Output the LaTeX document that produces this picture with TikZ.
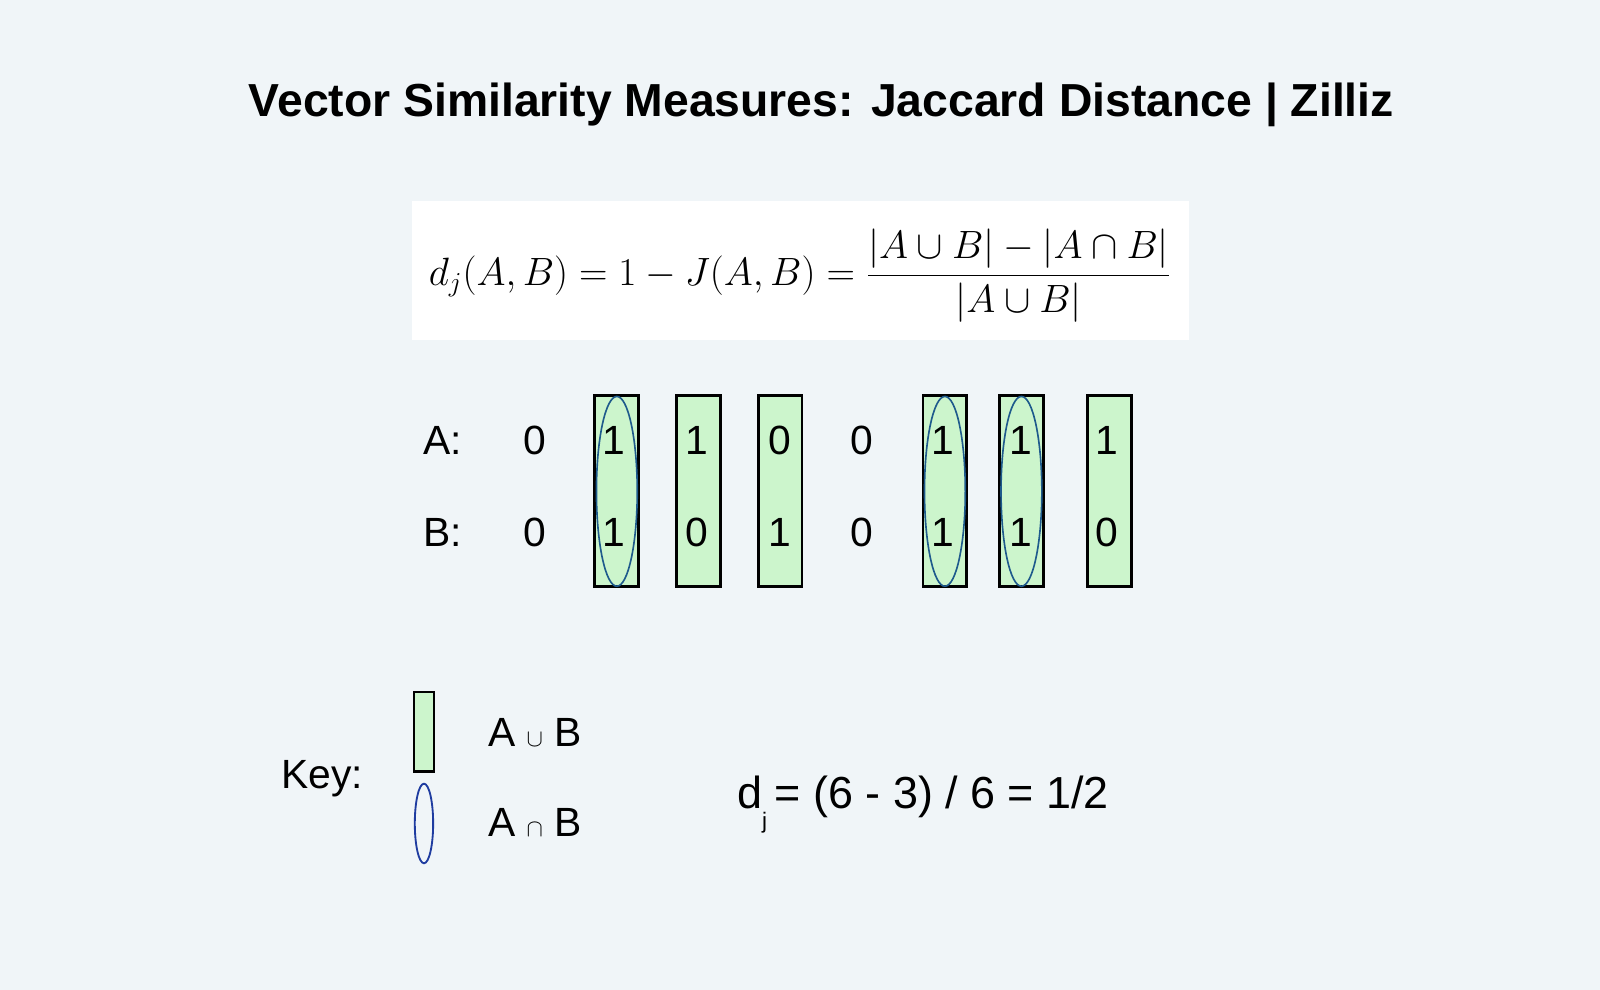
\documentclass[tikz,border=0pt]{standalone}
\usepackage{amsmath}
\usepackage{amssymb}
\usepackage{fontspec}
\setmainfont{Liberation Sans}
\usepackage{tikz}
\usepackage{xcolor}
\usetikzlibrary{positioning, shapes.geometric}
\definecolor{bgcol}{HTML}{F0F5F8}
\definecolor{uniongreen}{HTML}{CCF5CC}
\definecolor{ovalblue}{HTML}{1E5A8C}
\definecolor{keyblue}{HTML}{1F3CA0}
\begin{document}
\begin{tikzpicture}[x=0.5pt, y=-0.5pt,
    title/.style={font=\fontsize{22.7}{26}\selectfont\bfseries},
    bit/.style={font=\fontsize{20}{24}\selectfont, inner sep=0pt},
    unionbox/.style={draw=black, line width=1.4pt, fill=uniongreen, minimum width=21.5pt, minimum height=93.5pt, inner sep=0pt},
    interoval/.style={ellipse, draw=ovalblue, line width=0.8pt, minimum width=20pt, minimum height=93pt, inner sep=0pt}]
    \fill[bgcol] (0,0) rectangle (1568,970);
    \useasboundingbox (0,0) rectangle (1568,970);
    \node[title, anchor=base] (heading) at (805,114) {Vector Similarity Measures: Jaccard Distance | Zilliz};
    % formula panel
    \node[fill=white, minimum width=380.5pt, minimum height=68pt, inner sep=0pt] (panel) at (784.5,265) {};
    \node[font=\fontsize{21}{25}\selectfont] (formula) at (784,270)
        {\scalebox{0.933}{$\displaystyle d_j(A,B) = 1 - J(A,B) = \frac{|A\cup B| - |A\cap B|}{|A\cup B|}$}};
    % row labels
    \node[bit] (labA) at (434,432) {A:};
    \node[bit] (labB) at (434,522) {B:};
    % union boxes
    \foreach \x [count=\i] in {604.5, 684.5, 764.5, 926, 1001, 1087}
        \node[unionbox] (box\i) at (\x,481.5) {};
    % intersection ovals
    \foreach \x [count=\i] in {604.5, 926, 1001}
        \node[interoval] (oval\i) at (\x,481.5) {};
    % bits
    \foreach \x/\a/\b [count=\i] in {524/0/0, 602/1/1, 683/1/0, 764/0/1, 845/0/0, 924/1/1, 1000/1/1, 1085/1/0} {
        \node[bit] (a\i) at (\x,432) {\a};
        \node[bit] (b\i) at (\x,522) {\b};
    }
    % key
    \node[bit, anchor=base] (key) at (316,773) {Key:};
    \node[draw=black, line width=1.1pt, fill=uniongreen, minimum width=9.5pt, minimum height=39pt, inner sep=0pt] (keybox) at (415.5,717) {};
    \node[ellipse, draw=keyblue, line width=0.9pt, minimum width=9pt, minimum height=39pt, inner sep=0pt] (keyoval) at (415.5,807) {};
    \node[bit, anchor=west] (keyunion) at (478,718) {A {\fontsize{13}{15}\selectfont$\cup$} B};
    \node[bit, anchor=west] (keyinter) at (478,806) {A {\fontsize{13}{15}\selectfont$\cap$} B};
    \node[bit, anchor=base west, font=\fontsize{22}{26}\selectfont] (result) at (722,792) {d\raisebox{-10pt}{\fontsize{11}{13}\selectfont j}\,= (6 - 3) / 6 = 1/2};
\end{tikzpicture}
\end{document}
